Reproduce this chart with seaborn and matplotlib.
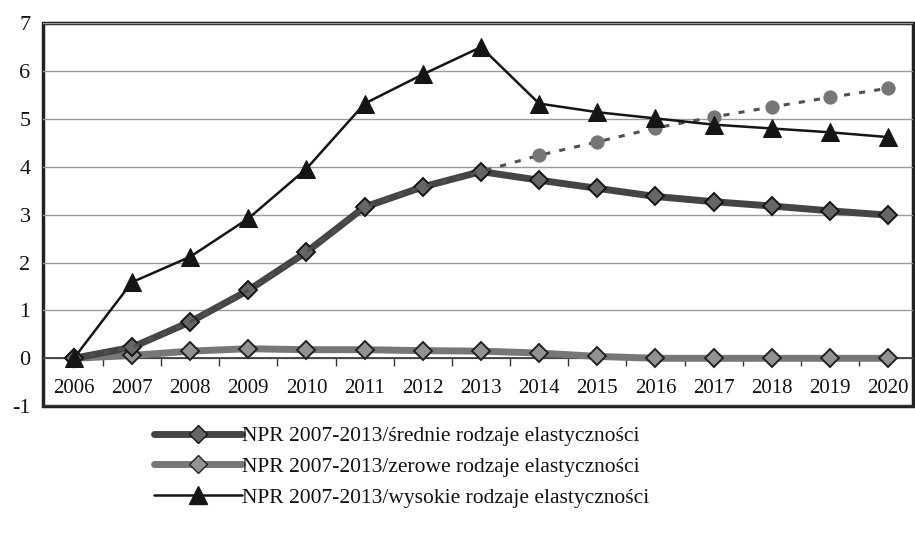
import numpy as np
import pandas as pd
import matplotlib
matplotlib.use("Agg")
import matplotlib.pyplot as plt
import seaborn as sns
from matplotlib.lines import Line2D

# dane
years = list(range(2006, 2021))
srednie = [0.0, 0.23, 0.76, 1.42, 2.22, 3.16, 3.58, 3.90, 3.72, 3.55, 3.38, 3.27, 3.18, 3.08, 2.99]
zerowe = [0.0, 0.06, 0.15, 0.20, 0.18, 0.18, 0.16, 0.15, 0.11, 0.04, 0.0, 0.0, 0.0, 0.0, 0.0]
wysokie = [0.0, 1.59, 2.12, 2.92, 3.96, 5.32, 5.93, 6.50, 5.32, 5.14, 5.01, 4.88, 4.80, 4.72, 4.62]
kropkowana = [0.0, 0.23, 0.76, 1.42, 2.22, 3.16, 3.58, 3.90, 4.24, 4.52, 4.81, 5.04, 5.25, 5.45, 5.64]

legend_labels = [
    "NPR 2007-2013/średnie rodzaje elastyczności",
    "NPR 2007-2013/zerowe rodzaje elastyczności",
    "NPR 2007-2013/wysokie rodzaje elastyczności",
]

FONT = "Liberation Serif"
INK = "#111111"

sns.set_theme(style="white")
plt.rcParams["font.family"] = [FONT, "DejaVu Serif"]
plt.rcParams["text.color"] = INK
plt.rcParams["xtick.color"] = INK
plt.rcParams["ytick.color"] = INK

fig = plt.figure(figsize=(9.15, 5.38), dpi=100)
ax = fig.add_axes([0.047, 0.245, 0.951, 0.712])

# zerowe - jasnoszara gruba linia
sns.lineplot(x=years, y=zerowe, ax=ax, color="#777777", linewidth=5,
             marker="D", markersize=9.5, markerfacecolor="#929292",
             markeredgecolor="#222222", markeredgewidth=1.4, zorder=3)
# srednie - ciemna gruba linia
sns.lineplot(x=years, y=srednie, ax=ax, color="#454545", linewidth=5,
             marker="D", markersize=9.5, markerfacecolor="#666666",
             markeredgecolor="#151515", markeredgewidth=1.4, zorder=4)
# seria kropkowana (bez legendy)
sns.lineplot(x=years, y=kropkowana, ax=ax, color="#505050", linewidth=2.2,
             linestyle=(0, (2, 3)), marker="o", markersize=9.5,
             markerfacecolor="#767676", markeredgecolor="#767676",
             markevery=list(range(8, 15)), zorder=5)
# wysokie - cienka czarna linia z trojkatami
sns.lineplot(x=years, y=wysokie, ax=ax, color="#151515", linewidth=1.8,
             marker="^", markersize=12.5, markerfacecolor="#151515",
             markeredgecolor="#151515", zorder=6)

ax.set_xlim(2005.47, 2020.43)
ax.set_ylim(-1, 7)
ax.set_yticks(range(-1, 8))
ax.set_yticklabels([str(v) for v in range(-1, 8)], fontsize=16)
ax.yaxis.grid(True, color="#9a9a9a", linewidth=1.0)
ax.xaxis.grid(False)

# os X na poziomie 0, etykiety pod nia
ax.spines["bottom"].set_position(("data", 0))
ax.spines["bottom"].set_color("#333333")
ax.spines["bottom"].set_linewidth(1.2)
for s in ["top", "left", "right"]:
    ax.spines[s].set_visible(False)
ax.set_xticks(years)
ax.set_xticklabels([str(y) for y in years], fontsize=15)
ax.set_xticks(np.arange(2006.5, 2020, 1), minor=True)
ax.tick_params(axis="x", which="major", length=0, pad=15)
ax.tick_params(axis="x", which="minor", length=6, width=1, color="#333333",
               direction="out", bottom=True)
ax.tick_params(axis="y", length=0, pad=9)

# ramka wokol pola wykresu
ax.patch.set_edgecolor("#222222")
ax.patch.set_linewidth(2.5)
ax.patch.set_facecolor("white")

handles = [
    Line2D([], [], color="#454545", linewidth=5, marker="D", markersize=9.5,
           markerfacecolor="#666666", markeredgecolor="#151515"),
    Line2D([], [], color="#777777", linewidth=5, marker="D", markersize=9.5,
           markerfacecolor="#929292", markeredgecolor="#222222"),
    Line2D([], [], color="#151515", linewidth=1.8, marker="^", markersize=12.5,
           markerfacecolor="#151515"),
]
fig.legend(handles, legend_labels, loc="upper left",
           bbox_to_anchor=(0.168, 0.208), frameon=False, fontsize=15.5,
           handlelength=4.1, handletextpad=0.0, labelspacing=0.5,
           borderaxespad=0, borderpad=0)

fig.savefig("out.png", dpi=100)
